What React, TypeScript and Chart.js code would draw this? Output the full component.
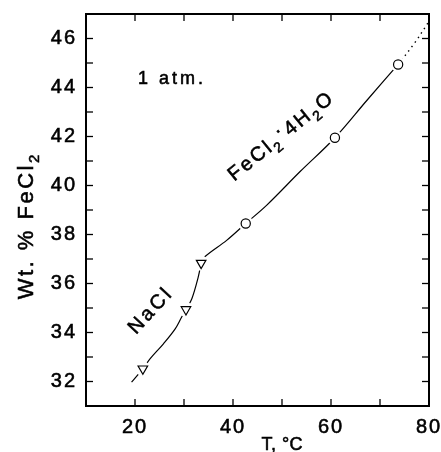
import { useEffect, useRef } from 'react';
import { Chart, registerables } from 'chart.js';

Chart.register(...registerables);

// axis ranges
const X_MIN = 10;
const X_MAX = 80;
const Y_MIN = 31;
const Y_MAX = 47;

// measured points: NaCl (triangles) and FeCl2·4H2O (circles)
const naclT = [21.6, 30.4, 33.5];
const naclW = [32.52, 34.94, 36.83];
const hydrT = [42.6, 60.8, 73.7];
const hydrW = [38.45, 41.95, 44.94];

// solubility curves
const naclCurveT = [19.3, 21.6, 23.1, 25.8, 28.2, 29.5, 30.4, 31.6, 32.9, 33.5];
const naclCurveW = [31.97, 32.52, 32.93, 33.54, 34.15, 34.62, 34.94, 35.38, 36.26, 36.83];
const hydrCurveT = [33.5, 34.3, 38.7, 42.6, 46.9, 53.7, 60.8, 67.3, 73.7];
const hydrCurveW = [36.83, 37.1, 37.76, 38.45, 39.2, 40.57, 41.95, 43.47, 44.94];
const extrapT = [73.7, 77.0, 80.0];
const extrapW = [44.94, 45.8, 46.7];

const FONT = '"Liberation Sans", Arial, Helvetica, sans-serif';
const STROKE = 0.55;

const zip = (xs: number[], ys: number[]) => xs.map((x, i) => ({ x, y: ys[i] }));

type Part = [string, 'n' | 's' | 'd'];

function drawRich(
  ctx: CanvasRenderingContext2D,
  parts: Part[],
  x: number,
  y: number,
  angleDeg: number,
  size: number,
  spacing: number,
  align: 'center' | 'left' = 'center'
) {
  ctx.save();
  ctx.translate(x, y);
  ctx.rotate((angleDeg * Math.PI) / 180);
  ctx.textAlign = 'left';
  ctx.textBaseline = 'alphabetic';
  ctx.fillStyle = '#000';
  ctx.strokeStyle = '#000';
  ctx.lineWidth = STROKE;
  (ctx as any).letterSpacing = `${spacing}px`;
  const fontFor = (k: string) => `${k === 's' ? Math.round(size * 0.68) : size}px ${FONT}`;
  let total = 0;
  const widths = parts.map(([t, k]) => {
    ctx.font = fontFor(k);
    const w = ctx.measureText(t).width;
    total += w;
    return w;
  });
  total -= spacing;
  let cx = align === 'center' ? -total / 2 : 0;
  parts.forEach(([t, k], i) => {
    ctx.font = fontFor(k);
    const dy = k === 's' ? size * 0.28 : k === 'd' ? -size * 0.3 : 0;
    ctx.fillText(t, cx, dy);
    ctx.strokeText(t, cx, dy);
    cx += widths[i];
  });
  ctx.restore();
}

const decoPlugin = {
  id: 'deco',
  beforeDraw(chart: any) {
    chart.ctx.letterSpacing = '2px';
  },
  afterDraw(chart: any) {
    const { ctx, chartArea: a, scales } = chart;
    const xs = scales.x;
    const ys = scales.y;
    ctx.save();
    ctx.letterSpacing = '0px';
    ctx.strokeStyle = '#000';
    ctx.lineWidth = 1.3;
    const seg = (x1: number, y1: number, x2: number, y2: number) => {
      ctx.beginPath();
      ctx.moveTo(x1, y1);
      ctx.lineTo(x2, y2);
      ctx.stroke();
    };
    const TL = 7;
    xs.ticks.forEach((t: any) => {
      const px = xs.getPixelForValue(t.value);
      if (px <= a.left + 1 || px >= a.right - 1) return;
      seg(px, a.bottom, px, a.bottom - TL);
      seg(px, a.top, px, a.top + TL);
    });
    ys.ticks.forEach((t: any) => {
      const py = ys.getPixelForValue(t.value);
      if (py <= a.top + 1 || py >= a.bottom - 1) return;
      seg(a.left, py, a.left + TL, py);
      seg(a.right, py, a.right - TL, py);
    });
    ctx.lineWidth = 2;
    ctx.strokeRect(a.left, a.top, a.right - a.left, a.bottom - a.top);

    // axis titles
    drawRich(ctx, [['Wt. % FeCl', 'n'], ['2', 's']], 33, 227, -90, 22, 2.5);
    drawRich(ctx, [['T, °C', 'n']], 282, 450, 0, 18, 0.5);

    // annotations placed in data coordinates
    drawRich(ctx, [['1 atm.', 'n']], xs.getPixelForValue(20.6), ys.getPixelForValue(44.16), 0, 18, 3, 'left');
    drawRich(
      ctx,
      [['FeCl', 'n'], ['2', 's'], ['·', 'd'], ['4H', 'n'], ['2', 's'], ['O', 'n']],
      xs.getPixelForValue(50.4),
      ys.getPixelForValue(41.8),
      -39,
      20,
      2.5
    );
    drawRich(ctx, [['NaCl', 'n']], xs.getPixelForValue(23.9), ys.getPixelForValue(34.7), -47, 20, 3);
    ctx.restore();
  },
};

export default function App() {
  const ref = useRef<HTMLCanvasElement | null>(null);
  useEffect(() => {
    if (!ref.current) return;
    const markers = [...zip(naclT, naclW), ...zip(hydrT, hydrW)];
    const curve = (data: { x: number; y: number }[], extra: any = {}) => ({
      data,
      showLine: true,
      borderColor: '#000',
      borderWidth: 1.2,
      pointRadius: 0,
      tension: 0.35,
      ...extra,
    });
    const chart = new Chart(ref.current, {
      type: 'scatter',
      data: {
        datasets: [
          {
            label: 'NaCl',
            data: zip(naclT, naclW),
            pointStyle: 'triangle',
            rotation: 180,
            pointRadius: 5.5,
            pointBackgroundColor: '#fff',
            pointBorderColor: '#000',
            pointBorderWidth: 1.2,
            showLine: false,
          } as any,
          {
            label: 'FeCl2·4H2O',
            data: zip(hydrT, hydrW),
            pointStyle: 'circle',
            pointRadius: 4.6,
            pointBackgroundColor: '#fff',
            pointBorderColor: '#000',
            pointBorderWidth: 1.2,
            showLine: false,
          },
          {
            label: 'halo',
            data: markers,
            pointRadius: 7.5,
            pointBackgroundColor: '#fff',
            pointBorderWidth: 0,
            pointBorderColor: 'rgba(0,0,0,0)',
            showLine: false,
          },
          { label: 'NaCl curve', ...curve(zip(naclCurveT, naclCurveW)) },
          { label: 'hydrate curve', ...curve(zip(hydrCurveT, hydrCurveW)) },
          {
            label: 'extrapolation',
            ...curve(zip(extrapT, extrapW), { borderWidth: 1.4, borderDash: [1.5, 4] }),
          },
        ] as any,
      },
      options: {
        animation: false,
        responsive: false,
        devicePixelRatio: 1,
        layout: { padding: { left: 0, right: 12, top: 14, bottom: 0 } },
        plugins: { legend: { display: false }, tooltip: { enabled: false } },
        scales: {
          x: {
            type: 'linear',
            min: X_MIN,
            max: X_MAX,
            grid: { display: false, drawTicks: false },
            border: { display: false },
            ticks: {
              stepSize: 10,
              padding: 9,
              color: '#000',
              textStrokeColor: '#000',
              textStrokeWidth: STROKE,
              font: { size: 20, family: FONT },
              maxRotation: 0,
              autoSkip: false,
              callback: (v: any) => (Number(v) % 20 === 0 ? String(v) : ''),
            },
            afterFit: (s: any) => {
              s.height = 46;
              s.paddingLeft = 0;
              s.paddingRight = 0;
            },
          },
          y: {
            type: 'linear',
            min: Y_MIN,
            max: Y_MAX,
            grid: { display: false, drawTicks: false },
            border: { display: false },
            ticks: {
              stepSize: 1,
              padding: 9,
              color: '#000',
              textStrokeColor: '#000',
              textStrokeWidth: STROKE,
              font: { size: 20, family: FONT },
              autoSkip: false,
              callback: (v: any) => (Number(v) % 2 === 0 ? String(v) : ''),
            },
            afterFit: (s: any) => {
              s.width = 86;
              s.paddingTop = 0;
              s.paddingBottom = 0;
            },
          },
        },
      } as any,
      plugins: [decoPlugin],
    });
    return () => chart.destroy();
  }, []);
  return (
    <div style={{ position: 'absolute', left: 0, top: 0, width: 441, height: 452, background: '#fff' }}>
      <canvas ref={ref} width={441} height={452} style={{ display: 'block' }} />
    </div>
  );
}
